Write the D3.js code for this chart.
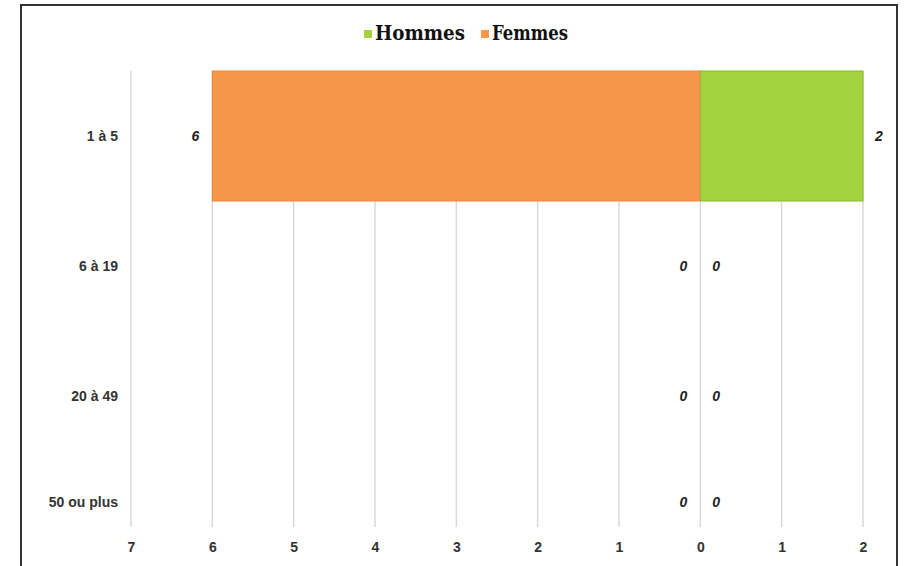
<!DOCTYPE html>
<html><head><meta charset="utf-8">
<script src="https://cdn.jsdelivr.net/npm/d3@7"></script>
<style>body{margin:0;background:#fff}svg{display:block}</style>
</head><body>
<svg id="c" width="905" height="566"></svg>
<script>
const categories = ["1 à 5", "6 à 19", "20 à 49", "50 ou plus"];
const hommes = [2, 0, 0, 0];
const femmes = [6, 0, 0, 0];
const tickValues = [-7, -6, -5, -4, -3, -2, -1, 0, 1, 2];
const seriesNames = ["Hommes", "Femmes"];
const colors = {Hommes: "#a3d43f", Femmes: "#f8974a"};
const strokes = {Hommes: "#8ab832", Femmes: "#e9873e"};

const svg = d3.select("#c");
svg.append("rect").attr("x", 21).attr("y", 5).attr("width", 876).attr("height", 580)
  .attr("fill", "#fff").attr("stroke", "#333").attr("stroke-width", 2);

const x = d3.scaleLinear().domain([-7, 2]).range([131, 863]);
const gridTop = 71, gridBottom = 527;
const y = d3.scaleBand().domain(categories).range([71, 591]).paddingInner(0).paddingOuter(0);

// gridlines
svg.append("g").selectAll("line").data(tickValues).join("line")
  .attr("x1", d => x(d)).attr("x2", d => x(d)).attr("y1", gridTop).attr("y2", gridBottom)
  .attr("stroke", "#d9d9d9").attr("stroke-width", 1.5);

// x axis labels
const xAxis = d3.axisBottom(x).tickValues(tickValues).tickFormat(d => Math.abs(d)).tickSize(0).tickPadding(0);
const gx = svg.append("g").attr("transform", `translate(0,${gridBottom + 15})`).call(xAxis);
gx.select(".domain").remove();
gx.selectAll("text").attr("font-family", "Liberation Sans, Arial, sans-serif").attr("font-weight", "bold")
  .attr("font-size", 14).attr("fill", "#333");

const rows = categories.map((c, i) => ({c, h: hommes[i], f: femmes[i]}));
const bw = y.bandwidth();
const labelY = c => Math.min(y(c) + bw / 2, gridBottom - 25);

// bars
svg.append("g").selectAll("rect").data(rows.filter(r => r.f > 0)).join("rect")
  .attr("x", r => x(-r.f)).attr("width", r => x(0) - x(-r.f))
  .attr("y", r => y(r.c)).attr("height", bw)
  .attr("fill", colors.Femmes).attr("stroke", strokes.Femmes).attr("stroke-width", 1);
svg.append("g").selectAll("rect").data(rows.filter(r => r.h > 0)).join("rect")
  .attr("x", x(0)).attr("width", r => x(r.h) - x(0))
  .attr("y", r => y(r.c)).attr("height", bw)
  .attr("fill", colors.Hommes).attr("stroke", strokes.Hommes).attr("stroke-width", 1);

// category labels
svg.append("g").selectAll("text").data(categories).join("text")
  .attr("x", 118).attr("y", c => labelY(c)).attr("dy", "0.35em").attr("text-anchor", "end")
  .attr("font-family", "Liberation Sans, Arial, sans-serif").attr("font-weight", "bold")
  .attr("font-size", 14).attr("fill", "#333").text(c => c);

// value labels
const vl = svg.append("g").attr("font-family", "Liberation Sans, Arial, sans-serif")
  .attr("font-weight", "bold").attr("font-style", "italic").attr("font-size", 14).attr("fill", "#222");
vl.selectAll("text.f").data(rows).join("text").attr("class", "f")
  .attr("x", r => x(-r.f) - 13).attr("y", r => labelY(r.c)).attr("dy", "0.35em")
  .attr("text-anchor", "end").text(r => r.f);
vl.selectAll("text.h").data(rows).join("text").attr("class", "h")
  .attr("x", r => x(r.h) + 12).attr("y", r => labelY(r.c)).attr("dy", "0.35em")
  .attr("text-anchor", "start").text(r => r.h);

// legend
const leg = svg.append("g");
const legItems = [{n: "Hommes", x: 364, w: 90}, {n: "Femmes", x: 481, w: 76}];
legItems.forEach(it => {
  leg.append("rect").attr("x", it.x).attr("y", 30).attr("width", 8).attr("height", 8).attr("fill", colors[it.n]);
  leg.append("text").attr("x", it.x + 11).attr("y", 33).attr("dy", "0.35em")
    .attr("font-family", "DejaVu Serif Condensed, DejaVu Serif, serif").attr("font-weight", "bold")
    .attr("font-size", 20).attr("fill", "#111")
    .attr("textLength", it.w).attr("lengthAdjust", "spacingAndGlyphs").text(it.n);
});
</script>
</body></html>
